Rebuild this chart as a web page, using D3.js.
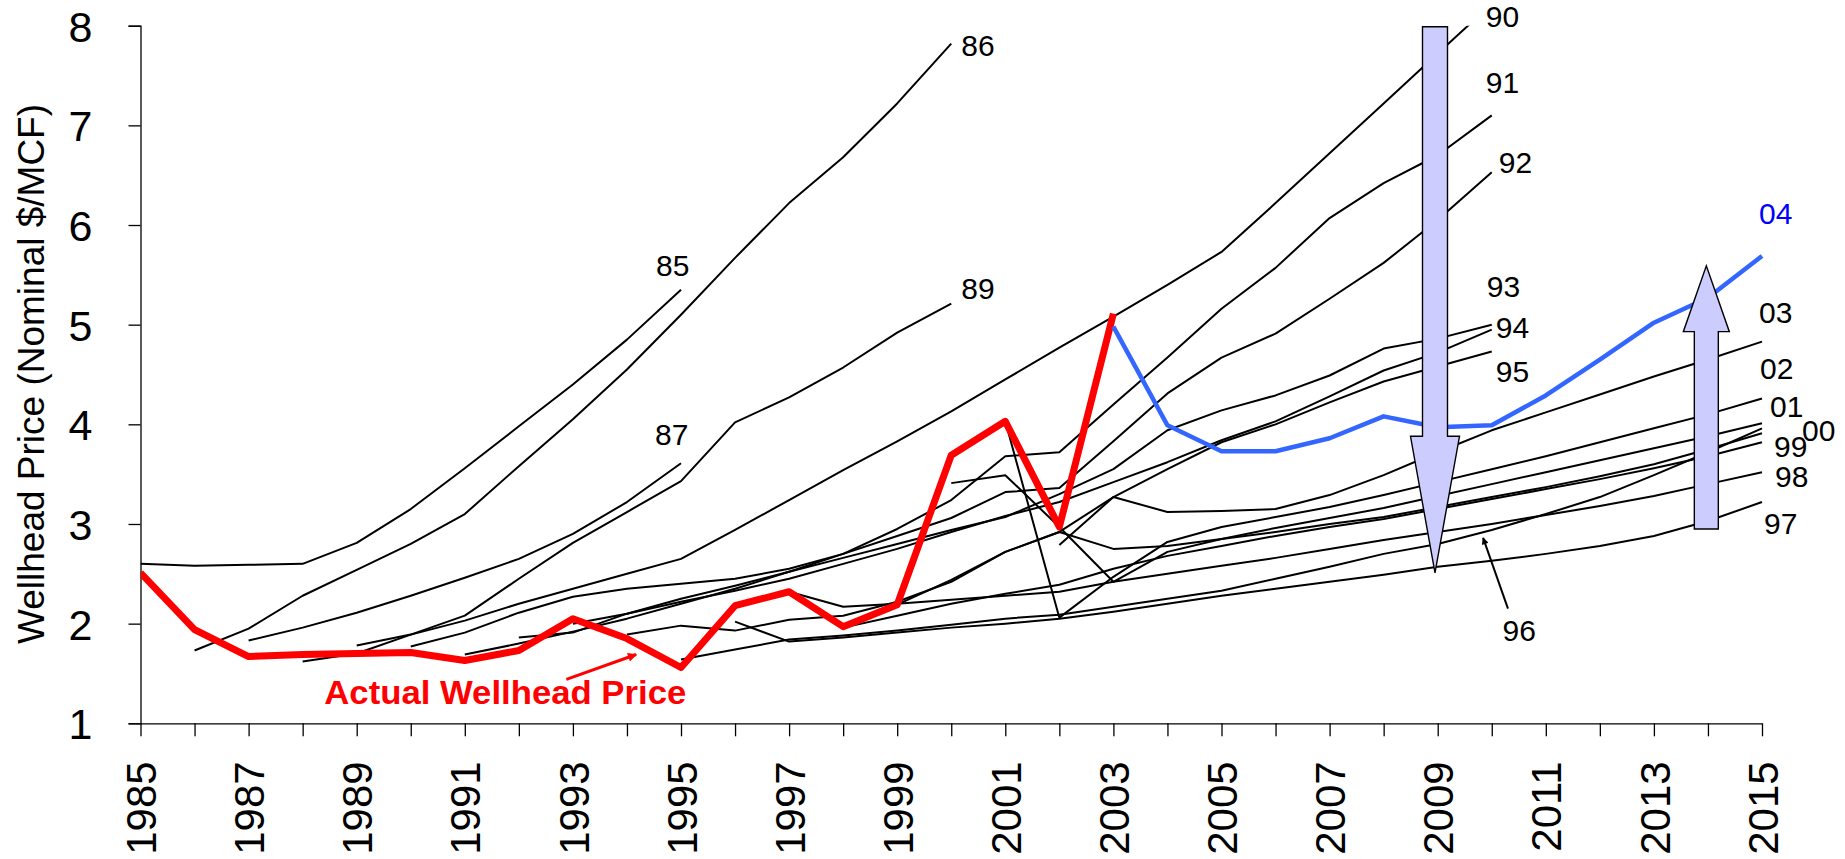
<!DOCTYPE html>
<html><head><meta charset="utf-8">
<script src="https://cdn.jsdelivr.net/npm/d3@7"></script>
<style>
body{margin:0;background:#fff}
svg{display:block}
text{font-family:"Liberation Sans",Arial,Helvetica,sans-serif}
</style>
</head><body>
<svg id="chart" width="1845" height="859"></svg>
<script>
// ---------------- data ----------------
const yearTicks = d3.range(1985, 2016);
const priceTicks = [1, 2, 3, 4, 5, 6, 7, 8];

// actual wellhead price, 1985-2003
const actual = [2.51, 1.94, 1.67, 1.69, 1.70, 1.71, 1.63, 1.73, 2.05, 1.85, 1.56, 2.18, 2.32, 1.97, 2.19, 3.69, 4.03, 2.97, 5.11];
// AEO forecasts (one value per year from the start year)
const aeo85 = [2.60, 2.58, 2.59, 2.60, 2.81, 3.15, 3.56, 3.98, 4.40, 4.85, 5.35];                       // 1985-1995
const aeo86 = [1.73, 1.95, 2.28, 2.54, 2.80, 3.10, 3.58, 4.05, 4.55, 5.10, 5.67, 6.22, 6.68, 7.22, 7.82]; // 1986-2000
const aeo87 = [1.83, 1.96, 2.11, 2.28, 2.46, 2.65, 2.90, 3.22, 3.61];                                   // 1987-1995
const aeo89 = [1.62, 1.70, 1.89, 2.08, 2.45, 2.81, 3.12, 3.43, 4.02, 4.27, 4.57, 4.92, 5.21];           // 1988-2000
const aeo90 = [1.78, 1.89, 2.03, 2.20, 2.35, 2.50, 2.65, 2.94, 3.24, 3.54, 3.83, 4.13, 4.45, 4.77, 5.08, 5.40, 5.73, 6.22, 6.72, 7.22, 7.72, 8.22]; // 1989-2010
const aeo91 = [1.77, 1.91, 2.11, 2.27, 2.35, 2.40, 2.45, 2.55, 2.70, 2.95, 3.24, 3.68, 3.72, 4.20, 4.67, 5.16, 5.57, 6.07, 6.42, 6.70, 7.10]; // 1990-2010
const aeo92 = [1.69, 1.80, 1.92, 2.05, 2.20, 2.35, 2.52, 2.70, 2.88, 3.06, 3.32, 3.36, 3.83, 4.31, 4.67, 4.91, 5.26, 5.62, 6.05, 6.53]; // 1991-2010
const aeo93 = [1.86, 1.91, 2.10, 2.25, 2.38, 2.52, 2.66, 2.80, 2.94, 3.07, 3.30, 3.55, 3.94, 4.14, 4.29, 4.49, 4.76, 4.86, 5.00];   // 1992-2010
const aeo94 = [2.00, 2.10, 2.22, 2.33, 2.45, 2.60, 2.75, 2.92, 3.08, 3.22, 3.42, 3.62, 3.84, 4.03, 4.28, 4.54, 4.72, 4.95];          // 1993-2010
const aeo95 = [1.89, 1.98, 1.93, 2.04, 2.08, 2.22, 2.42, 2.72, 2.92, 3.27, 3.55, 3.82, 4.00, 4.22, 4.43, 4.58, 4.73];                // 1994-2010
const aeo96 = [1.64, 1.74, 1.84, 1.88, 1.93, 1.99, 2.05, 2.09, 2.17, 2.25, 2.33, 2.45, 2.57, 2.70, 2.80, 2.94, 3.10, 3.27, 3.49, 3.72, 3.96]; // 1995-2015
const aeo97 = [2.02, 1.82, 1.86, 1.91, 1.96, 2.00, 2.05, 2.12, 2.20, 2.28, 2.35, 2.42, 2.49, 2.57, 2.63, 2.70, 2.78, 2.88, 3.03, 3.22];       // 1996-2015
const aeo98 = [2.32, 2.17, 2.20, 2.24, 2.28, 2.32, 2.42, 2.50, 2.58, 2.66, 2.75, 2.84, 2.92, 3.00, 3.09, 3.18, 3.28, 3.40, 3.52];             // 1997-2015
const aeo99 = [1.96, 2.08, 2.20, 2.30, 2.39, 2.55, 2.68, 2.78, 2.88, 2.97, 3.05, 3.15, 3.25, 3.35, 3.45, 3.56, 3.68, 3.82];                   // 1998-2015
const aeo00 = [2.19, 2.44, 2.72, 2.92, 2.75, 2.78, 2.85, 2.92, 3.00, 3.07, 3.17, 3.27, 3.37, 3.48, 3.60, 3.75, 3.91];                         // 1999-2015
const aeo01 = [3.41, 3.49, 2.97, 2.42, 2.72, 2.85, 2.96, 3.06, 3.16, 3.28, 3.40, 3.52, 3.64, 3.76, 3.88, 4.01];                               // 2000-2015
const aeo02 = [4.03, 2.06, 2.47, 2.82, 2.97, 3.07, 3.17, 3.29, 3.42, 3.55, 3.68, 3.82, 3.96, 4.10, 4.26];                                     // 2001-2015
const aeo03 = [2.79, 3.27, 3.12, 3.13, 3.15, 3.29, 3.49, 3.72, 3.94, 4.12, 4.30, 4.48, 4.65, 4.83];                                           // 2002-2015
const aeo04 = [4.98, 3.99, 3.73, 3.73, 3.86, 4.08, 3.97, 3.99, 4.29, 4.65, 5.02, 5.27, 5.69];                                                 // 2003-2015

const forecasts = [
  {label: "85", start: 1985, values: aeo85},
  {label: "86", start: 1986, values: aeo86},
  {label: "87", start: 1987, values: aeo87},
  {label: "89", start: 1988, values: aeo89},
  {label: "90", start: 1989, values: aeo90},
  {label: "91", start: 1990, values: aeo91},
  {label: "92", start: 1991, values: aeo92},
  {label: "93", start: 1992, values: aeo93},
  {label: "94", start: 1993, values: aeo94},
  {label: "95", start: 1994, values: aeo95},
  {label: "96", start: 1995, values: aeo96},
  {label: "97", start: 1996, values: aeo97},
  {label: "98", start: 1997, values: aeo98},
  {label: "99", start: 1998, values: aeo99},
  {label: "00", start: 1999, values: aeo00},
  {label: "01", start: 2000, values: aeo01},
  {label: "02", start: 2001, values: aeo02},
  {label: "03", start: 2002, values: aeo03}
];

// label offsets (px) relative to each line's last point
const labelOffsets = {
  "85": [-25, -14], "86": [10, 12], "87": [-26, -18], "89": [10, -5],
  "91": [-6, -22], "92": [7, 1], "93": [-5, -28], "94": [4, 8], "95": [4, 30],
  "97": [2, 32], "98": [13, 15], "99": [12, 15], "00": [40, 8], "01": [8, -6],
  "02": [-2, -19], "03": [-3, -19], "04": [-3, -32]
};

// ---------------- chart ----------------
(function () {
const svg = d3.select("#chart");
const pL = 140.5, pR = 1762, pT = 25.7, pB = 723.3;

const x = d3.scaleLinear().domain([1985, 2015]).range([pL, pR]);
const y = d3.scaleLinear().domain([1, 8]).range([pB, pT]);

const defs = svg.append("defs");
defs.append("clipPath").attr("id", "plot")
  .append("rect").attr("x", pL).attr("y", pT).attr("width", pR - pL + 2).attr("height", pB - pT);

defs.append("marker").attr("id", "ahBlack")
  .attr("viewBox", "0 0 10 10").attr("refX", 9).attr("refY", 5)
  .attr("markerWidth", 9).attr("markerHeight", 7).attr("markerUnits", "userSpaceOnUse").attr("orient", "auto")
  .append("path").attr("d", "M0,0 L10,5 L0,10 z").attr("fill", "#000");
defs.append("marker").attr("id", "ahRed")
  .attr("viewBox", "0 0 10 10").attr("refX", 9).attr("refY", 5)
  .attr("markerWidth", 12).attr("markerHeight", 9).attr("markerUnits", "userSpaceOnUse").attr("orient", "auto")
  .append("path").attr("d", "M0,0 L10,5 L0,10 z").attr("fill", "#ff0000");

// axes
const yAxis = svg.append("g").attr("transform", `translate(${pL},0)`)
  .call(d3.axisLeft(y).tickValues(priceTicks).tickSize(12).tickPadding(36).tickFormat(d3.format("d")));
yAxis.select(".domain").attr("stroke", "#000").attr("stroke-width", 1.3);
yAxis.selectAll(".tick line").attr("stroke", "#000").attr("stroke-width", 1.3);
yAxis.selectAll("text").attr("font-size", 43).attr("fill", "#000").attr("dy", "0.36em");

const xAxis = svg.append("g").attr("transform", `translate(0,${pB})`)
  .call(d3.axisBottom(x).tickValues(yearTicks).tickSize(13).tickSizeOuter(0)
    .tickFormat(d => (d % 2 === 1 ? String(d) : "")));
xAxis.select(".domain").attr("stroke", "#000").attr("stroke-width", 1.3);
xAxis.selectAll(".tick line").attr("stroke", "#000").attr("stroke-width", 1.3);
xAxis.selectAll("text")
  .attr("font-size", 42).attr("fill", "#000")
  .attr("transform", "rotate(-90)")
  .attr("text-anchor", "end")
  .attr("x", -38).attr("y", 0).attr("dy", "0.36em");

// axis title
svg.append("text")
  .attr("transform", `translate(44,${(100 + 648) / 2}) rotate(-90)`)
  .attr("text-anchor", "middle")
  .attr("font-size", 37)
  .attr("fill", "#000")
  .text("Wellhead Price (Nominal $/MCF)");

const line = d3.line().x(d => x(d[0])).y(d => y(d[1]));
const plot = svg.append("g").attr("clip-path", "url(#plot)");

forecasts.forEach(f => {
  const pts = f.values.map((v, i) => [f.start + i, v]);
  plot.append("path").datum(pts)
    .attr("d", line).attr("fill", "none")
    .attr("stroke", "#000").attr("stroke-width", 2).attr("stroke-linejoin", "round");
});

// actual (red)
plot.append("path").datum(actual.map((v, i) => [1985 + i, v]))
  .attr("d", line).attr("fill", "none")
  .attr("stroke", "#ff0000").attr("stroke-width", 7).attr("stroke-linejoin", "round");

// AEO 2004 (blue)
plot.append("path").datum(aeo04.map((v, i) => [2003 + i, v]))
  .attr("d", line).attr("fill", "none")
  .attr("stroke", "#3366ff").attr("stroke-width", 4.5).attr("stroke-linejoin", "round");

// series labels
const labG = svg.append("g").attr("font-size", 30).attr("fill", "#000");
forecasts.forEach(f => {
  if (f.label === "90" || f.label === "96") return;
  const ly = f.start + f.values.length - 1, lv = f.values[f.values.length - 1];
  const off = labelOffsets[f.label];
  labG.append("text").attr("x", x(ly) + off[0]).attr("y", y(lv) + off[1]).text(f.label);
});
labG.append("text").attr("x", x(2010) - 6).attr("y", y(8) + 1).text("90");
labG.append("text").attr("x", x(2015) - 3).attr("y", y(aeo04[aeo04.length - 1]) - 32)
  .attr("fill", "#0000ff").text("04");
labG.append("text").attr("x", x(2010.2)).attr("y", y(1.83)).text("96");
svg.append("line")
  .attr("x1", x(2010.3)).attr("y1", y(2.15)).attr("x2", x(2009.84)).attr("y2", y(2.86))
  .attr("stroke", "#000").attr("stroke-width", 2).attr("marker-end", "url(#ahBlack)");

// Actual Wellhead Price annotation
svg.append("text").attr("x", x(1988.4)).attr("y", y(1.19))
  .attr("font-size", 34).attr("font-weight", "bold").attr("fill", "#ff0000")
  .attr("textLength", 362).attr("lengthAdjust", "spacingAndGlyphs")
  .text("Actual Wellhead Price");
svg.append("line")
  .attr("x1", x(1992.88)).attr("y1", y(1.44)).attr("x2", x(1994.17)).attr("y2", y(1.69))
  .attr("stroke", "#ff0000").attr("stroke-width", 3).attr("marker-end", "url(#ahRed)");

// big arrows
function bigArrow(cx, yStart, yHeadBase, yTip, shaftW, headW) {
  const p = d3.path();
  p.moveTo(cx - shaftW / 2, yStart);
  p.lineTo(cx + shaftW / 2, yStart);
  p.lineTo(cx + shaftW / 2, yHeadBase);
  p.lineTo(cx + headW / 2, yHeadBase);
  p.lineTo(cx, yTip);
  p.lineTo(cx - headW / 2, yHeadBase);
  p.lineTo(cx - shaftW / 2, yHeadBase);
  p.closePath();
  svg.append("path").attr("d", p.toString())
    .attr("fill", "#ccccff").attr("stroke", "#000").attr("stroke-width", 1.4);
}
bigArrow(x(2008.95), y(7.99), y(3.88), y(2.51), 25, 49);
bigArrow(x(2013.97), y(2.95), y(4.93), y(5.59), 24, 46);
})();
</script>
</body></html>
